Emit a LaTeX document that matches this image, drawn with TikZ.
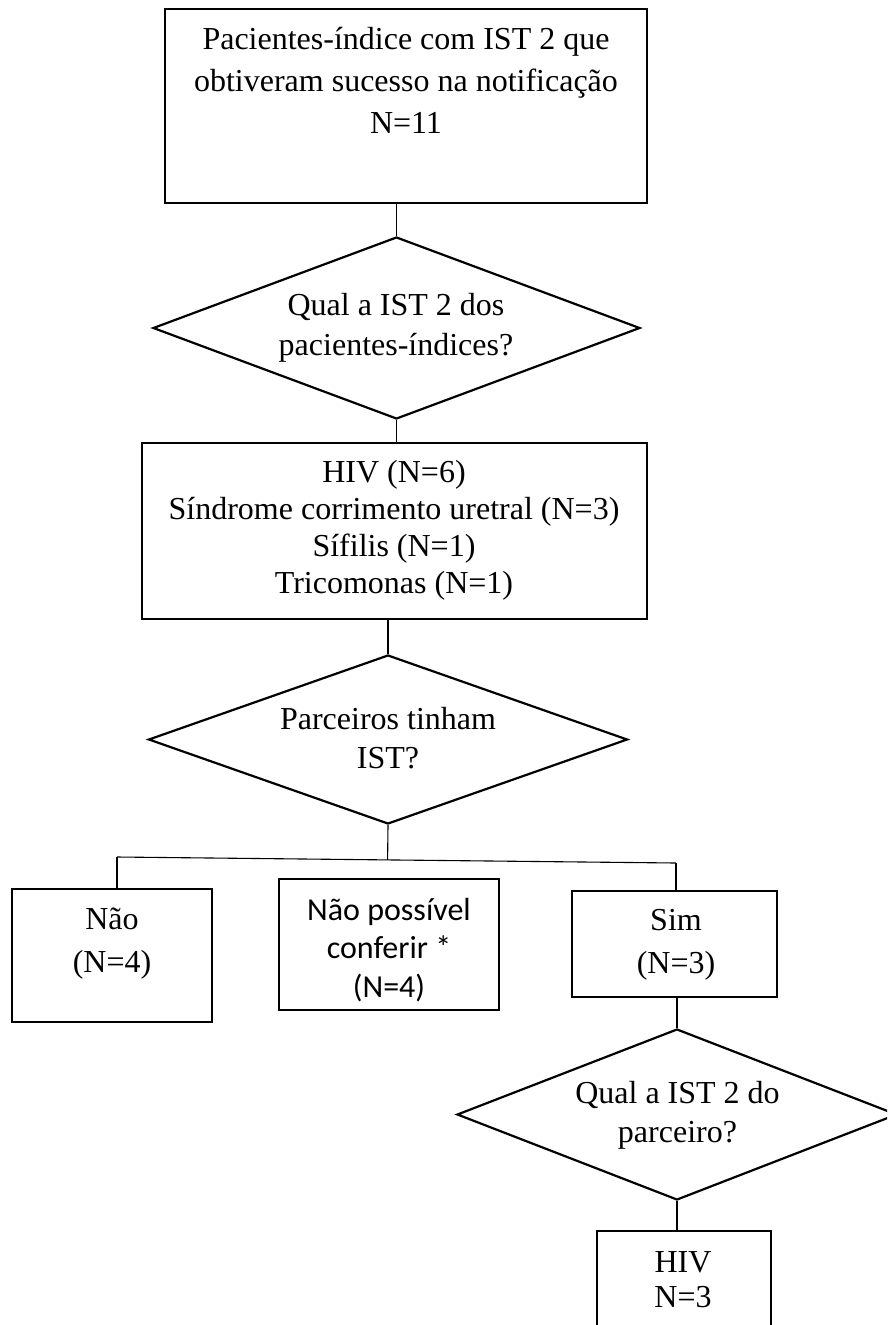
\documentclass[tikz,border=0pt]{standalone}
\usepackage{fontspec}
\setmainfont{Liberation Serif}
\newfontfamily\calib{Carlito}
\usetikzlibrary{shapes.geometric,calc}
\begin{document}
\begin{tikzpicture}[x=1pt,y=-1pt,
  box/.style={draw, line width=2.2pt, inner sep=0pt},
  dec/.style={draw, shape=diamond, line width=2.2pt, inner sep=0pt},
  conn/.style={line width=1.1pt},
  lbl/.style={anchor=base, align=center, inner sep=0pt}]
\useasboundingbox (0,0) rectangle (887,1325);
\fill[white] (0,0) rectangle (887,1325);
\clip (0,0) rectangle (887,1325);

% shapes
\node[box, minimum width=482pt, minimum height=194pt] (b1) at (406,106) {};
\node[dec, minimum width=487pt, minimum height=182pt] (d1) at (396.5,328) {};
\node[box, minimum width=505pt, minimum height=176pt] (b2) at (394.5,531) {};
\node[dec, minimum width=479pt, minimum height=169pt] (d2) at (388,739.5) {};
\node[box, minimum width=200pt, minimum height=133pt] (nao) at (112,955.5) {};
\node[box, minimum width=220pt, minimum height=131pt] (mid) at (389,944.5) {};
\node[box, minimum width=205pt, minimum height=106pt] (sim) at (674.5,944) {};
\node[dec, minimum width=440pt, minimum height=171pt] (d3) at (677,1114.5) {};
\node[box, minimum width=174pt, minimum height=120pt] (hiv) at (684,1291) {};

% texts (anchor base = baseline of the last line)
\node[lbl, font=\fontsize{32}{42}\selectfont] (t1) at (406,133)
  {Pacientes-índice com IST 2 que\\obtiveram sucesso na notificação\\N=11};
\node[lbl, font=\fontsize{32}{40}\selectfont] (td1) at (396,355)
  {Qual a IST 2 dos\\pacientes-índices?};
\node[lbl, font=\fontsize{32}{37}\selectfont] (t2) at (394,593)
  {HIV (N=6)\\Síndrome corrimento uretral (N=3)\\Sífilis (N=1)\\Tricomonas (N=1)};
\node[lbl, font=\fontsize{32}{39}\selectfont] (td2) at (388,768)
  {Parceiros tinham\\IST?};
\node[lbl, font=\fontsize{32}{43}\selectfont] (tnao) at (112,972)
  {Não\\(N=4)};
\node[lbl, font=\calib\fontsize{32}{38.5}\selectfont] (tmid) at (389,997)
  {Não possível\\conferir *\\(N=4)};
\node[lbl, font=\fontsize{32}{43}\selectfont] (tsim) at (676,973)
  {Sim\\(N=3)};
\node[lbl, font=\fontsize{32}{39}\selectfont] (td3) at (677.5,1142)
  {Qual a IST 2 do\\parceiro?};
\node[lbl, font=\fontsize{32}{35}\selectfont] (thiv) at (683,1307)
  {HIV\\N=3};

% connectors
\coordinate (jL) at (117,857);
\coordinate (jR) at (676,863);
\draw[conn] (b1.south -| d1.north) -- (d1.north);
\draw[conn] (d1.south) -- (d1.south |- b2.north);
\draw[conn] (b2.south -| d2.north) -- (d2.north);
\draw[conn] (d2.south) -- ($(jL)!(d2.south)!(jR)$);
\draw[conn] (jL) -- (jR);
\draw[conn] (jL) -- (jL |- nao.north);
\draw[conn] (jR) -- (jR |- sim.north);
\draw[conn] (sim.south -| d3.north) -- (d3.north);
\draw[conn] (d3.south) -- (d3.south |- hiv.north);
\end{tikzpicture}
\end{document}
